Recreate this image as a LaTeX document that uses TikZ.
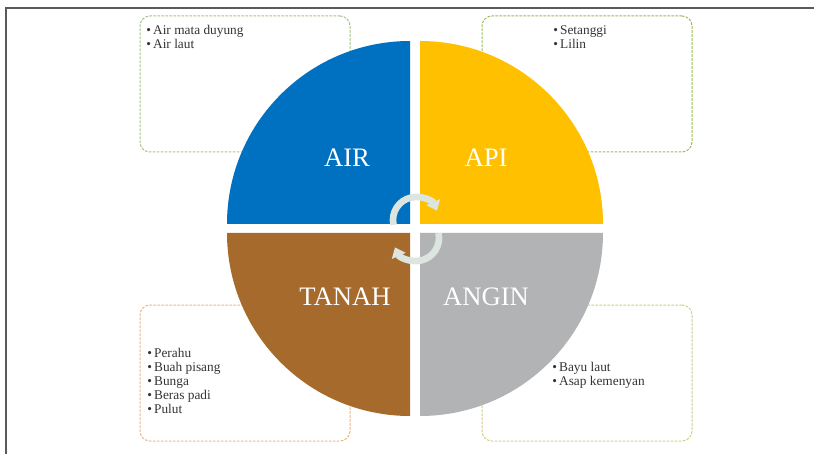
\documentclass[tikz,border=0pt]{standalone}
\usepackage{fontspec}
\setmainfont{Liberation Serif}
\usetikzlibrary{arrows.meta}
\definecolor{biru}{HTML}{0070C0}
\definecolor{kuning}{HTML}{FFC000}
\definecolor{coklat}{HTML}{A66B2C}
\definecolor{kelabu}{HTML}{B2B3B5}
\definecolor{hijaumuda}{HTML}{A6C28C}
\definecolor{hijau}{HTML}{9BBB59}
\definecolor{jingga}{HTML}{F2B37C}
\definecolor{zaitun}{HTML}{D3CF78}
\definecolor{warnapanah}{HTML}{DDE5E1}
\definecolor{bingkai}{HTML}{5A5A5A}
\begin{document}
\begin{tikzpicture}[x=0.75pt, y=0.75pt,
		kotak/.style={draw, line width=0.75pt, dash pattern=on 2pt off 1pt, rounded corners=7.5pt, minimum width=157.5pt, minimum height=102pt, inner sep=0pt},
		senarai/.style={anchor=north west, align=left, inner sep=0pt, font=\fontsize{10}{10.5}\selectfont, text=black!80},
		tajuk/.style={text=white, font=\fontsize{20}{24}\selectfont},
		panah/.style={line width=5pt, warnapanah, -{Triangle[width=11pt,length=7pt]}}]
		\useasboundingbox (0,0) rectangle (814,454);
		\draw[bingkai, line width=1.5pt] (6,0) |- (814,446);
		
		% kotak senarai
		\node[kotak, draw=hijaumuda] (kotakair) at (245,370) {};
		\node[kotak, draw=hijau] (kotakapi) at (587,370) {};
		\node[kotak, draw=jingga] (kotaktanah) at (245,81) {};
		\node[kotak, draw=zaitun] (kotakangin) at (587,81) {};
		
		% sukuan bulatan
		\fill[biru] (410,230) -- ++(-183,0) arc[start angle=180, end angle=90, radius=183] -- cycle;
		\fill[kuning] (420,230) -- ++(0,183) arc[start angle=90, end angle=0, radius=183] -- cycle;
		\fill[coklat] (410,221) -- ++(-183,0) arc[start angle=180, end angle=270, radius=183] -- cycle;
		\fill[kelabu] (420,221) -- ++(183,0) arc[start angle=0, end angle=-90, radius=183] -- cycle;
		
		\node[tajuk] (air) at (347,296) {AIR};
		\node[tajuk] (api) at (486,296) {API};
		\node[tajuk] (tanah) at (345,157) {TANAH};
		\node[tajuk] (angin) at (486,157) {ANGIN};
		
		% anak panah tengah
		\draw[panah] ([shift={(192:23)}]416,234) arc[start angle=192, end angle=24, radius=23];
		\draw[panah] ([shift={(12:23)}]416,216) arc[start angle=12, end angle=-156, radius=23];
		
		% isi senarai
		\node[senarai] (senaraiair) at (146,429) {•\,Air mata duyung\\•\,Air laut};
		\node[senarai] (senaraiapi) at (553,429) {•\,Setanggi\\•\,Lilin};
		\node[senarai] (senaraitanah) at (147,106) {•\,Perahu\\•\,Buah pisang\\•\,Bunga\\•\,Beras padi\\•\,Pulut};
		\node[senarai] (senaraiangin) at (552,92) {•\,Bayu laut\\•\,Asap kemenyan};
		
	\end{tikzpicture}
\end{document}
